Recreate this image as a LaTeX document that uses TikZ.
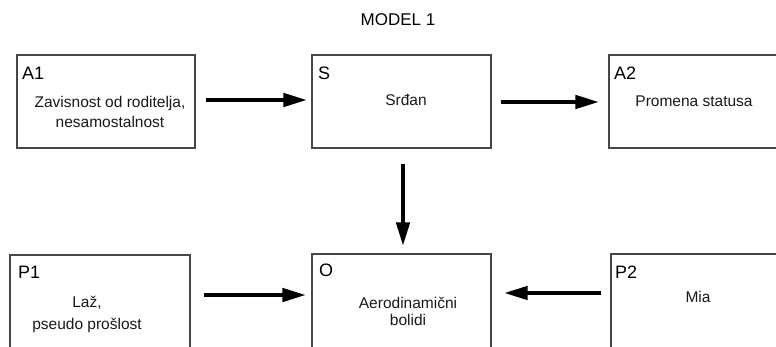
\documentclass[tikz,border=0pt]{standalone}
\usepackage{fontspec}
\setmainfont{Liberation Sans}
\usetikzlibrary{arrows.meta}

\tikzset{
  box/.style={draw=black!72, line width=1.4pt, rectangle, inner sep=0pt},
  tag/.style={anchor=west, inner sep=0pt, font=\fontsize{18}{20}\selectfont},
  body/.style={align=center, inner sep=0pt, font=\fontsize{15.5}{20}\selectfont, text=black!90},
  arr/.style={line width=4.6pt, draw=black,
    -{Triangle[length=24pt, width=13pt]}},
}

\begin{document}
\begin{tikzpicture}[x=1pt, y=-1pt]
  \useasboundingbox (0,0) rectangle (776,347);
  \clip (0,0) rectangle (776,347);

  % title
  \node[inner sep=0pt, font=\fontsize{17}{18}\selectfont] (title) at (398,20) {MODEL 1};

  % upper row
  \node[box, minimum width=178pt, minimum height=93pt] (a1) at (106,101.5) {};
  \node[box, minimum width=179pt, minimum height=93pt] (s)  at (401.5,101.5) {};
  \node[box, minimum width=181pt, minimum height=93pt] (a2) at (699.5,101.5) {};

  % lower row
  \node[box, minimum width=180pt, minimum height=100pt] (p1) at (100,305) {};
  \node[box, minimum width=179pt, minimum height=100pt] (o)  at (401.5,304) {};
  \node[box, minimum width=179pt, minimum height=100pt] (p2) at (700.5,304) {};

  % corner tags
  \node[tag] (a1t) at (22,73) {A1};
  \node[tag] (st)  at (318,73) {S};
  \node[tag] (a2t) at (614,73) {A2};
  \node[tag] (p1t) at (18,272) {P1};
  \node[tag] (ot)  at (319,270) {O};
  \node[tag] (p2t) at (615,272) {P2};

  % box texts
  \node[body] (a1x) at (110,112) {Zavisnost od roditelja,\\nesamostalnost};
  \node[body] (sx)  at (406,100) {Srđan};
  \node[body] (a2x) at (694,101) {Promena statusa};
  \node[body, font=\fontsize{15.5}{22}\selectfont] (p1x) at (87,314) {Laž,\\pseudo prošlost};
  \node[body, font=\fontsize{15.5}{17}\selectfont] (ox)  at (408,311.5) {Aerodinamični\\bolidi};
  \node[body] (p2x) at (698,297) {Mia};

  % connectors
  \draw[arr, shorten <=10pt, shorten >=4pt] ([yshift=1.5pt]a1.east) -- ([yshift=1.5pt]s.west);
  \draw[arr, shorten <=9pt, shorten >=9pt] ([yshift=-0.5pt]s.east) -- ([yshift=-0.5pt]a2.west);
  \draw[arr, shorten <=15pt, shorten >=7pt] ([xshift=1.5pt]s.south) -- ([xshift=1.5pt]o.north);
  \draw[arr, shorten <=13pt, shorten >=5pt] (p1.east |- 0,295) -- (o.west |- 0,295);
  \draw[arr, shorten <=9pt, shorten >=12pt] (p2.west |- 0,293) -- (o.east |- 0,293);
\end{tikzpicture}
\end{document}
